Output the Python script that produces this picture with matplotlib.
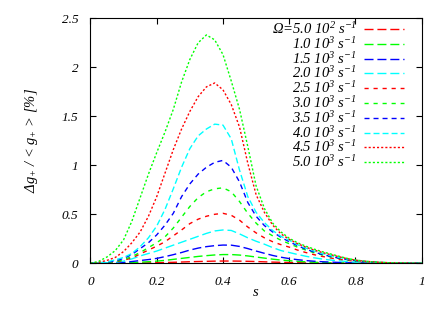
import matplotlib
matplotlib.use("Agg")
import matplotlib.pyplot as plt

# 字体：仿 gnuplot 的 Times 斜体
plt.rcParams['font.family'] = ['Liberation Serif', 'DejaVu Serif']
plt.rcParams['font.style'] = 'italic'
plt.rcParams['mathtext.fontset'] = 'custom'
plt.rcParams['mathtext.rm'] = 'Liberation Serif:italic'
plt.rcParams['mathtext.it'] = 'Liberation Serif:italic'

# ============================================================
# 数据（从图上读取，s 每 0.025 一个点）
# ============================================================
s = [0.000, 0.025, 0.050, 0.075, 0.100, 0.125, 0.150, 0.175, 0.200, 0.225,
     0.250, 0.275, 0.300, 0.325, 0.350, 0.375, 0.400, 0.425, 0.450, 0.475,
     0.500, 0.525, 0.550, 0.575, 0.600, 0.625, 0.650, 0.675, 0.700, 0.725,
     0.750, 0.775, 0.800, 0.825, 0.850, 0.875, 0.900, 0.925, 0.950, 0.975,
     1.000]

omega_labels = [
    r'$\Omega$=5.0 10$^{2}$ s$^{-1}$',
    r'1.0 10$^{3}$ s$^{-1}$',
    r'1.5 10$^{3}$ s$^{-1}$',
    r'2.0 10$^{3}$ s$^{-1}$',
    r'2.5 10$^{3}$ s$^{-1}$',
    r'3.0 10$^{3}$ s$^{-1}$',
    r'3.5 10$^{3}$ s$^{-1}$',
    r'4.0 10$^{3}$ s$^{-1}$',
    r'4.5 10$^{3}$ s$^{-1}$',
    r'5.0 10$^{3}$ s$^{-1}$',
]

dg_0500 = [0, 0, 0, 0.001, 0.001, 0.002, 0.003, 0.004, 0.006, 0.008,
           0.010, 0.013, 0.016, 0.018, 0.020, 0.022, 0.023, 0.023, 0.022, 0.020,
           0.018, 0.015, 0.012, 0.010, 0.008, 0.006, 0.004, 0.003, 0.002, 0.002,
           0.001, 0.001, 0.001, 0, 0, 0, 0, 0, 0, 0, 0]
dg_1000 = [0, 0, 0.001, 0.002, 0.004, 0.007, 0.011, 0.016, 0.022, 0.030,
           0.040, 0.050, 0.060, 0.070, 0.078, 0.085, 0.089, 0.089, 0.084, 0.075,
           0.064, 0.053, 0.042, 0.033, 0.026, 0.020, 0.015, 0.011, 0.008, 0.006,
           0.004, 0.003, 0.002, 0.001, 0.001, 0, 0, 0, 0, 0, 0]
dg_1500 = [0, 0, 0.002, 0.005, 0.010, 0.018, 0.028, 0.038, 0.050, 0.068,
           0.088, 0.110, 0.135, 0.155, 0.170, 0.180, 0.186, 0.185, 0.172, 0.150,
           0.125, 0.102, 0.080, 0.062, 0.048, 0.037, 0.028, 0.021, 0.016, 0.012,
           0.009, 0.006, 0.004, 0.003, 0.002, 0.001, 0, 0, 0, 0, 0]
dg_2000 = [0, 0.001, 0.004, 0.010, 0.022, 0.045, 0.075, 0.100, 0.125, 0.155,
           0.185, 0.215, 0.245, 0.275, 0.305, 0.330, 0.340, 0.335, 0.300, 0.260,
           0.225, 0.195, 0.160, 0.130, 0.110, 0.090, 0.072, 0.056, 0.043, 0.033,
           0.025, 0.018, 0.012, 0.008, 0.005, 0.003, 0.002, 0.001, 0, 0, 0]
dg_2500 = [0, 0.001, 0.005, 0.013, 0.030, 0.055, 0.095, 0.135, 0.175, 0.220,
           0.280, 0.340, 0.405, 0.450, 0.480, 0.500, 0.510, 0.490, 0.440, 0.370,
           0.310, 0.260, 0.220, 0.190, 0.165, 0.135, 0.110, 0.088, 0.070, 0.054,
           0.041, 0.030, 0.021, 0.014, 0.009, 0.006, 0.004, 0.002, 0.001, 0, 0]
dg_3000 = [0, 0.002, 0.007, 0.018, 0.035, 0.070, 0.110, 0.160, 0.210, 0.270,
           0.360, 0.470, 0.580, 0.670, 0.730, 0.760, 0.770, 0.730, 0.630, 0.510,
           0.410, 0.330, 0.280, 0.235, 0.200, 0.165, 0.135, 0.108, 0.085, 0.066,
           0.050, 0.037, 0.026, 0.018, 0.012, 0.008, 0.005, 0.003, 0.001, 0, 0]
dg_3500 = [0, 0.003, 0.010, 0.025, 0.050, 0.090, 0.150, 0.210, 0.290, 0.390,
           0.510, 0.680, 0.810, 0.910, 0.980, 1.030, 1.050, 0.980, 0.830, 0.620,
           0.480, 0.385, 0.320, 0.265, 0.220, 0.180, 0.145, 0.115, 0.090, 0.070,
           0.053, 0.039, 0.027, 0.018, 0.012, 0.008, 0.005, 0.003, 0.002, 0.001, 0]
dg_4000 = [0, 0.005, 0.015, 0.035, 0.060, 0.100, 0.170, 0.260, 0.380, 0.550,
           0.760, 0.980, 1.170, 1.300, 1.370, 1.420, 1.410, 1.270, 0.950, 0.680,
           0.520, 0.415, 0.335, 0.275, 0.235, 0.190, 0.155, 0.125, 0.100, 0.078,
           0.060, 0.044, 0.030, 0.020, 0.013, 0.008, 0.005, 0.003, 0.002, 0.001, 0]
dg_4500 = [0, 0.010, 0.030, 0.060, 0.120, 0.210, 0.320, 0.480, 0.680, 0.920,
           1.160, 1.370, 1.550, 1.700, 1.800, 1.840, 1.770, 1.620, 1.390, 1.020,
           0.700, 0.520, 0.390, 0.300, 0.245, 0.200, 0.165, 0.135, 0.110, 0.088,
           0.067, 0.047, 0.032, 0.022, 0.015, 0.010, 0.006, 0.004, 0.002, 0.001, 0]
dg_5000 = [0, 0.020, 0.065, 0.130, 0.240, 0.430, 0.670, 0.910, 1.130, 1.340,
           1.570, 1.850, 2.080, 2.250, 2.330, 2.280, 2.130, 1.860, 1.570, 1.190,
           0.790, 0.560, 0.410, 0.320, 0.255, 0.210, 0.175, 0.145, 0.118, 0.095,
           0.072, 0.050, 0.034, 0.023, 0.015, 0.010, 0.006, 0.004, 0.002, 0.001, 0]

curves = [dg_0500, dg_1000, dg_1500, dg_2000, dg_2500,
          dg_3000, dg_3500, dg_4000, dg_4500, dg_5000]

# gnuplot 风格：红 绿 蓝 青 循环，虚线逐渐变短
colors = ['#ff0000', '#00ff00', '#0000ff', '#00ffff'] * 3
dashes = [(6.5, 2.8), (6.5, 2.8), (6.5, 2.8), (6.5, 2.8),
          (3.0, 3.5), (3.0, 3.5), (3.6, 2.9), (4.3, 2.2),
          (1.5, 1.5), (1.5, 1.5)]

# ============================================================
# 绘图
# ============================================================
fig = plt.figure(figsize=(4.44, 3.11), dpi=100)
ax = fig.add_axes([0.2038, 0.1534, 0.9498 - 0.2038, 0.9412 - 0.1534])

for i, y in enumerate(curves):
    line, = ax.plot(s, y, color=colors[i], linewidth=1.0)
    line.set_dashes(dashes[i])

ax.set_xlim(0, 1)
ax.set_ylim(0, 2.5)
ax.set_xticks([0, 0.2, 0.4, 0.6, 0.8, 1])
ax.set_xticklabels(['0', '0.2', '0.4', '0.6', '0.8', '1'])
ax.set_yticks([0, 0.5, 1, 1.5, 2, 2.5])
ax.set_yticklabels(['0', '0.5', '1', '1.5', '2', '2.5'])
ax.tick_params(direction='in', top=True, right=True, length=4, width=0.8,
               labelsize=9.5)
ax.tick_params(axis='x', pad=9)
ax.tick_params(axis='y', pad=8.6)
for sp in ax.spines.values():
    sp.set_linewidth(0.8)

ax.set_xlabel('s', fontsize=10.5, labelpad=-1)
ax.set_ylabel(r'$\Delta g_{+}$ / < $g_{+}$ > [%]', fontsize=10.5, labelpad=16)

# 手动画图例（文字右对齐，线段在右侧）
row0 = 0.956
step = 0.0604
for i, lab in enumerate(omega_labels):
    yy = row0 - i * step
    ax.text(0.804, yy, lab, transform=ax.transAxes, ha='right', va='center',
            fontsize=10.5)
    ln, = ax.plot([0.826, 0.947], [yy, yy], transform=ax.transAxes,
                  color=colors[i], linewidth=1.0)
    ln.set_dashes(dashes[i])

fig.savefig("out.png", dpi=100)
